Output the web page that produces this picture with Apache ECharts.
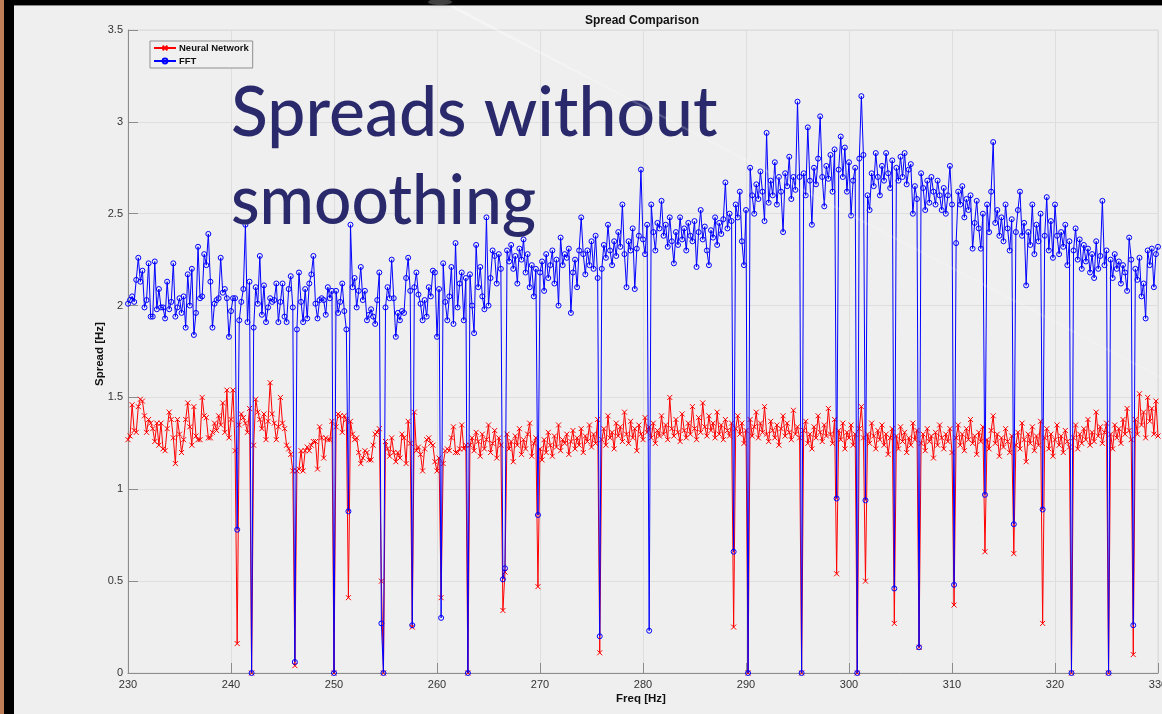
<!DOCTYPE html>
<html>
<head>
<meta charset="utf-8">
<title>Spread Comparison</title>
<script src="https://cdn.jsdelivr.net/npm/echarts@6/dist/echarts.min.js"></script>
<style>
  html, body { margin: 0; padding: 0; background: #efefef; }
  #chart { width: 1162px; height: 714px; }
</style>
</head>
<body>
<div id="chart"></div>
<script>
// Frequency bins: 230 Hz to 330 Hz in 0.2 Hz steps
const FREQ_START = 230;
const FREQ_STEP = 0.2;

const xTicks = [230, 240, 250, 260, 270, 280, 290, 300, 310, 320, 330];
const yTicks = [0, 0.5, 1, 1.5, 2, 2.5, 3, 3.5];

// Spread estimated by the neural network [Hz]
const nnSpread = [
  1.27,1.29,1.46,1.32,1.31,1.45,1.49,1.48,1.40,1.31,
  1.38,1.36,1.33,1.26,1.36,1.24,1.36,1.22,1.21,1.33,
  1.42,1.38,1.28,1.14,1.38,1.30,1.20,1.27,1.38,1.47,
  1.34,1.24,1.45,1.29,1.27,1.27,1.50,1.40,1.39,1.28,
  1.28,1.31,1.36,1.32,1.40,1.35,1.47,1.31,1.54,1.28,
  1.38,1.54,1.21,0.16,1.35,1.41,1.39,1.36,1.31,1.44,
  0.00,1.24,1.49,1.42,1.38,1.33,1.41,1.27,1.37,1.58,
  1.41,1.36,1.27,1.34,1.50,1.36,1.33,1.24,1.22,1.19,
  1.10,0.04,1.10,1.11,1.21,1.10,1.21,1.23,1.21,1.24,
  1.26,1.26,1.11,1.34,1.28,1.17,1.28,1.27,1.27,1.37,
  0.00,1.34,1.41,1.40,1.31,1.40,1.38,0.41,1.37,1.30,
  1.27,1.28,1.20,1.14,1.17,1.21,1.20,1.16,1.16,1.24,
  1.30,1.31,1.33,0.50,0.00,1.26,1.22,1.18,1.28,1.20,
  1.15,1.20,1.17,1.30,1.28,1.14,1.37,1.25,0.25,1.42,
  1.21,1.23,1.19,1.10,1.22,1.27,1.28,1.25,1.24,1.15,
  1.10,1.17,0.41,1.14,1.21,1.22,1.21,1.28,1.34,1.20,
  1.20,1.22,1.35,1.22,1.24,0.00,1.24,1.28,1.21,1.31,
  1.26,1.18,1.30,1.22,1.27,1.35,1.20,1.25,1.32,1.17,
  1.28,1.24,0.34,0.55,1.30,1.22,1.26,1.15,1.29,1.24,
  1.33,1.19,1.27,1.22,1.30,1.36,1.18,1.25,1.28,0.47,
  1.22,1.16,1.27,1.20,1.31,1.24,1.18,1.29,1.23,1.35,
  1.21,1.27,1.25,1.30,1.19,1.26,1.32,1.22,1.28,1.24,
  1.33,1.20,1.29,1.26,1.35,1.23,1.30,1.25,1.38,0.11,
  1.27,1.33,1.24,1.40,1.28,1.31,1.22,1.36,1.29,1.34,
  1.26,1.42,1.30,1.25,1.37,1.28,1.33,1.21,1.35,1.30,
  1.27,1.39,1.31,1.34,1.28,1.36,1.25,1.32,1.29,1.40,
  1.30,1.35,1.27,1.50,1.33,1.29,1.38,1.31,1.26,1.41,
  1.32,1.28,1.36,1.30,1.45,1.33,1.27,1.39,1.31,1.47,
  1.34,1.29,1.40,1.32,1.36,1.28,1.42,1.30,1.35,1.27,
  1.38,1.32,1.29,1.36,0.25,1.33,1.40,1.30,1.36,1.25,
  1.32,0.00,1.38,1.29,1.34,1.42,1.28,1.36,1.31,1.45,
  1.30,1.26,1.37,1.32,1.28,1.35,1.24,1.33,1.40,1.29,
  1.36,1.31,1.27,1.43,1.30,1.34,1.28,0.00,1.32,1.37,
  1.25,1.30,1.22,1.34,1.28,1.40,1.31,1.26,1.35,1.29,
  1.44,1.30,1.25,1.38,0.54,1.32,1.27,1.36,1.22,1.31,
  1.28,1.35,1.24,1.30,0.00,1.33,1.45,1.28,0.50,1.30,
  1.25,1.36,1.29,1.22,1.32,1.27,1.35,1.24,1.30,1.19,
  1.28,1.33,0.27,1.29,1.22,1.34,1.26,1.31,1.20,1.28,
  1.24,1.36,1.27,1.32,0.14,1.25,1.30,1.21,1.33,1.26,
  1.29,1.17,1.31,1.24,1.35,1.28,1.22,1.30,1.26,1.33,
  1.20,0.37,1.28,1.35,1.24,1.30,1.21,1.33,1.27,1.38,
  1.25,1.29,1.19,1.31,1.26,1.34,0.66,1.27,1.22,1.32,
  1.40,1.25,1.30,1.18,1.28,1.23,1.33,1.26,1.20,1.29,
  0.65,1.24,1.31,1.22,1.36,1.27,1.15,1.30,1.25,1.34,
  1.21,1.29,1.24,1.37,0.27,1.28,1.33,1.22,1.30,1.18,
  1.27,1.35,1.24,1.29,1.20,1.32,1.26,1.23,0.00,1.28,
  1.35,1.22,1.30,1.25,1.33,1.27,1.38,1.24,1.31,1.26,
  1.42,1.29,1.34,1.25,1.31,1.36,0.00,1.30,1.22,1.35,
  1.28,1.33,1.25,1.38,1.30,1.44,1.32,1.27,0.10,1.38,
  1.30,1.52,1.35,1.42,1.28,1.50,1.37,1.44,1.30,1.48,
  1.29
];

// Spread estimated from the FFT [Hz]
const fftSpread = [
  2.01,2.03,2.05,2.02,2.14,2.26,2.13,2.19,1.99,2.03,
  2.23,1.94,1.94,2.24,1.98,2.09,1.99,1.99,1.93,2.13,
  1.98,2.02,2.23,1.94,1.99,2.04,1.96,2.05,1.88,2.17,
  2.00,2.20,1.84,1.96,2.32,2.04,2.05,2.28,2.22,2.39,
  2.13,1.88,2.01,2.03,2.04,2.26,2.07,2.09,2.04,1.83,
  1.97,2.04,2.04,0.78,1.92,2.02,2.09,2.44,1.91,2.13,
  0.00,1.88,2.10,2.01,2.27,1.95,2.11,1.91,1.99,2.04,
  2.02,2.03,2.12,1.91,2.02,2.12,1.94,1.91,2.09,2.16,
  1.99,0.06,1.87,2.18,2.02,1.91,2.09,1.93,2.12,2.17,
  2.27,2.01,1.93,2.03,2.04,2.03,1.95,2.10,2.04,2.08,
  0.00,2.08,1.96,2.02,2.12,1.97,1.87,0.88,2.44,2.10,
  2.15,1.99,2.08,2.21,2.03,2.08,1.92,1.95,1.98,1.94,
  1.90,2.03,2.18,0.27,0.00,1.99,2.10,2.04,2.25,2.04,
  1.83,1.96,1.92,1.97,1.96,2.15,2.26,2.08,0.26,2.10,
  2.18,2.06,2.01,1.92,2.03,1.94,2.10,2.05,2.19,2.18,
  1.83,2.09,0.30,2.23,2.02,1.92,2.05,2.21,1.90,2.34,
  1.99,2.12,2.18,1.92,2.15,0.00,2.17,2.00,1.85,2.33,
  2.10,2.21,2.05,1.98,2.48,2.00,2.15,2.30,2.27,2.12,
  2.28,2.20,0.51,0.57,2.30,2.24,2.33,2.20,2.27,2.12,
  2.31,2.25,2.36,2.18,2.28,2.10,2.22,2.05,2.20,0.86,
  2.18,2.24,2.08,2.28,2.15,2.22,2.30,2.12,2.25,2.00,
  2.37,2.22,2.28,2.26,2.31,1.96,2.18,2.25,2.10,2.30,
  2.48,2.28,2.17,2.30,2.22,2.35,2.20,2.38,2.15,0.20,
  2.20,2.33,2.26,2.44,2.30,2.22,2.35,2.27,2.40,2.32,
  2.55,2.28,2.10,2.35,2.30,2.42,2.09,2.31,2.38,2.74,
  2.36,2.28,2.44,0.23,2.55,2.40,2.30,2.45,2.42,2.57,
  2.38,2.44,2.32,2.48,2.35,2.23,2.40,2.33,2.48,2.36,
  2.42,2.30,2.45,2.38,2.35,2.46,2.21,2.40,2.52,2.36,
  2.43,2.30,2.22,2.41,2.37,2.48,2.33,2.45,2.39,2.47,
  2.67,2.42,2.50,2.46,0.66,2.55,2.48,2.62,2.35,2.22,
  2.52,0.00,2.75,2.60,2.50,2.66,2.58,2.73,2.62,2.46,
  2.94,2.56,2.68,2.60,2.78,2.55,2.70,2.62,2.40,2.72,
  2.65,2.81,2.58,2.70,2.63,3.11,2.70,0.00,2.72,2.60,
  2.97,2.68,2.44,2.75,2.66,2.80,3.03,2.70,2.54,2.76,
  2.69,2.82,2.62,2.85,0.95,2.74,2.92,2.70,2.86,2.62,
  2.78,2.49,2.68,2.75,0.00,2.80,3.14,2.82,0.94,2.60,
  2.52,2.72,2.65,2.83,2.70,2.60,2.76,2.68,2.83,2.72,
  2.64,2.79,0.46,2.75,2.68,2.81,2.70,2.83,2.66,2.74,
  2.77,2.50,2.65,2.58,0.14,2.72,2.64,2.52,2.68,2.56,
  2.70,2.62,2.55,2.68,2.60,2.52,2.64,2.50,2.60,2.76,
  2.55,0.48,2.34,2.62,2.55,2.65,2.48,2.58,2.52,2.60,
  2.31,2.45,2.57,2.42,2.31,2.50,0.97,2.55,2.40,2.62,
  2.89,2.45,2.52,2.38,2.48,2.35,2.55,2.42,2.30,2.47,
  0.81,2.40,2.52,2.62,2.38,2.45,2.11,2.40,2.33,2.55,
  2.28,2.44,2.35,2.50,0.89,2.38,2.59,2.30,2.46,2.26,
  2.55,2.38,2.28,2.40,2.32,2.44,2.22,2.35,0.00,2.30,
  2.42,2.25,2.36,2.20,2.33,2.24,2.31,2.18,2.28,2.15,
  2.35,2.20,2.27,2.57,2.22,2.30,0.00,2.25,2.15,2.28,
  2.20,2.24,2.12,2.22,2.18,2.08,2.37,2.25,0.26,2.20,
  2.14,2.26,2.05,2.12,1.93,2.30,2.22,2.31,2.10,2.28,
  2.32
];

const seriesNames = ['Neural Network', 'FFT'];
const headline = ['Spreads without', 'smoothing'];

const toPoints = (vals) => vals.map((v, i) => [+(FREQ_START + i * FREQ_STEP).toFixed(1), v]);

const chart = echarts.init(document.getElementById('chart'), null, { renderer: 'canvas' });

const GRID = { left: 128, top: 30, width: 1030, height: 643 };
const tickFont = { fontFamily: 'Liberation Sans, Arial, sans-serif', fontSize: 11, color: '#333333' };
const crossPath = 'path://M0,0L10,10M10,0L0,10';

chart.setOption({
  backgroundColor: '#efefef',
  animation: false,
  grid: {
    left: GRID.left, top: GRID.top, width: GRID.width, height: GRID.height,
    containLabel: false, outerBoundsMode: 'none',
    show: true, backgroundColor: '#efefef', borderColor: '#d9d9d9', borderWidth: 1
  },
  legend: {
    orient: 'vertical',
    left: 150, top: 41,
    padding: [2, 4, 2, 3],
    itemGap: 3,
    itemWidth: 22, itemHeight: 6,
    backgroundColor: '#f0f0f0',
    borderColor: '#8f8f8f', borderWidth: 1,
    borderRadius: 0,
    textStyle: { fontFamily: 'Liberation Sans, Arial, sans-serif', fontSize: 9.5, fontWeight: 'bold', color: '#111', padding: [0, 0, 0, -2] },
    data: seriesNames
  },
  xAxis: {
    type: 'value', min: xTicks[0], max: xTicks[xTicks.length - 1], interval: 10,
    axisLine: { show: true, lineStyle: { color: '#8c8c8c', width: 1 } },
    axisTick: { show: true, inside: true, length: 10, lineStyle: { color: '#8c8c8c' } },
    axisLabel: Object.assign({ margin: 6, hideOverlap: false }, tickFont),
    splitLine: { show: true, lineStyle: { color: '#dedede', width: 1 } }
  },
  yAxis: {
    type: 'value', min: yTicks[0], max: yTicks[yTicks.length - 1], interval: 0.5,
    axisLine: { show: true, lineStyle: { color: '#8c8c8c', width: 1 } },
    axisTick: { show: true, inside: true, length: 10, lineStyle: { color: '#8c8c8c' } },
    axisLabel: Object.assign({ margin: 5 }, tickFont),
    splitLine: { show: true, lineStyle: { color: '#dedede', width: 1 } }
  },
  series: [
    {
      name: seriesNames[0], type: 'line',
      data: toPoints(nnSpread),
      color: '#ff0000',
      symbol: crossPath, symbolSize: 5, showSymbol: true, showAllSymbol: true,
      lineStyle: { color: '#ff0000', width: 1 },
      itemStyle: { color: '#ff0000', borderColor: '#ff0000', borderWidth: 1 },
      emphasis: { disabled: true }, silent: true, z: 2
    },
    {
      name: seriesNames[1], type: 'line',
      data: toPoints(fftSpread),
      color: '#0000ff',
      symbol: 'circle', symbolSize: 5, showSymbol: true, showAllSymbol: true,
      lineStyle: { color: '#0000ff', width: 1 },
      itemStyle: { color: 'rgba(0,0,0,0)', borderColor: '#0000ff', borderWidth: 1 },
      emphasis: { disabled: true }, silent: true, z: 3
    }
  ],
  graphic: [
    // slide frame
    { type: 'rect', shape: { x: 0, y: 0, width: 1162, height: 5 }, style: { fill: '#000' }, z: 100 },
    { type: 'rect', shape: { x: 0, y: 5, width: 1162, height: 1 }, style: { fill: '#8a8a8a' }, z: 100 },
    { type: 'ellipse', shape: { cx: 440, cy: 2, rx: 12, ry: 3 }, style: { fill: 'rgba(140,140,140,0.4)', shadowBlur: 6, shadowColor: 'rgba(140,140,140,0.5)' }, z: 101 },
    { type: 'rect', shape: { x: 0, y: 0, width: 4, height: 714 }, style: { fill: '#bf7e55' }, z: 101 },
    { type: 'rect', shape: { x: 4, y: 0, width: 10, height: 714 }, style: { fill: '#000' }, z: 101 },
    // faint light reflection across the slide
    { type: 'line', shape: { x1: 440, y1: 0, x2: 1162, y2: 378 },
      style: { stroke: new echarts.graphic.LinearGradient(0, 0, 1, 1, [
        { offset: 0, color: 'rgba(255,255,255,0.45)' },
        { offset: 0.25, color: 'rgba(255,255,255,0.18)' },
        { offset: 1, color: 'rgba(255,255,255,0.12)' }
      ], false), lineWidth: 2, shadowBlur: 4, shadowColor: 'rgba(255,255,255,0.4)' }, silent: true, z: 90 },
    // title and axis names
    { type: 'text', x: 642, y: 21, style: { text: 'Spread Comparison', font: 'bold 12px "Liberation Sans", Arial, sans-serif', fill: '#111', align: 'center', verticalAlign: 'middle' }, z: 50 },
    { type: 'text', x: 641, y: 699, style: { text: 'Freq [Hz]', font: 'bold 11.5px "Liberation Sans", Arial, sans-serif', fill: '#111', align: 'center', verticalAlign: 'middle' }, z: 50 },
    { type: 'text', x: 100, y: 354, rotation: Math.PI / 2, style: { text: 'Spread [Hz]', font: 'bold 11.5px "Liberation Sans", Arial, sans-serif', fill: '#111', align: 'center', verticalAlign: 'middle' }, z: 50 },
    // headline overlay
    { type: 'text', x: 231, y: 113, scaleX: 0.97, style: { text: headline[0], font: '500 70px Lato, sans-serif', fill: '#29296b', align: 'left', verticalAlign: 'middle' }, z: 60 },
    { type: 'text', x: 231, y: 201, scaleX: 0.94, style: { text: headline[1], font: '500 70px Lato, sans-serif', fill: '#29296b', align: 'left', verticalAlign: 'middle' }, z: 60 }
  ]
});
</script>
</body>
</html>
